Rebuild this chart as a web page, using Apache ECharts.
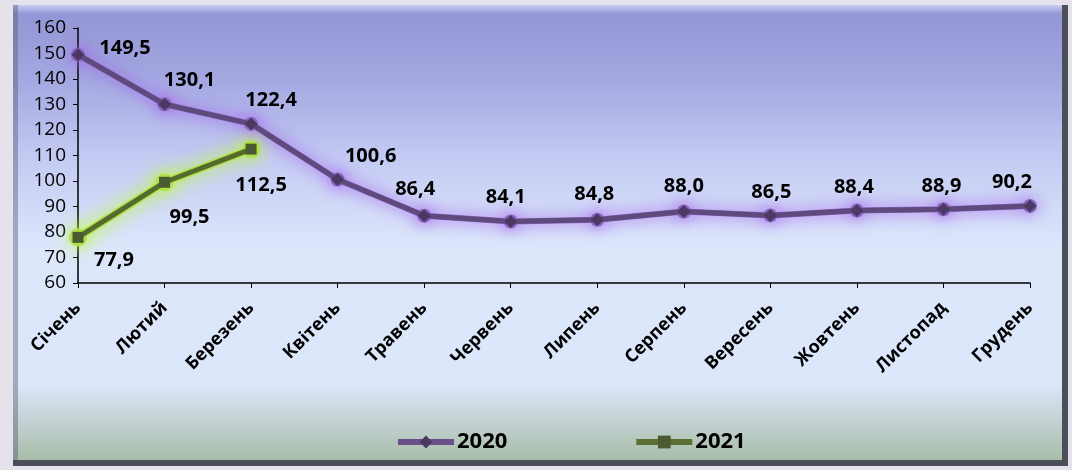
<!DOCTYPE html>
<html>
<head>
<meta charset="utf-8">
<script src="https://cdn.jsdelivr.net/npm/echarts@6/dist/echarts.min.js"></script>
<style>
  html, body { margin: 0; padding: 0; background: #e6e2ec; }
  #main { width: 1072px; height: 470px; }
</style>
</head>
<body>
<div id="main"></div>
<script>
// дані
var months = ['Січень', 'Лютий', 'Березень', 'Квітень', 'Травень', 'Червень', 'Липень', 'Серпень', 'Вересень', 'Жовтень', 'Листопад', 'Грудень'];
var values2020 = [149.5, 130.1, 122.4, 100.6, 86.4, 84.1, 84.8, 88.0, 86.5, 88.4, 88.9, 90.2];
var values2021 = [77.9, 99.5, 112.5];
var seriesNames = ['2020', '2021'];

// зсуви підписів (як в оригіналі)
var offsets2020 = [[47, 19], [25, 2], [20, 2], [33, 2], [-9, -1], [-5, 1], [-3, 0], [0, 0], [1, 2], [-3, 2], [-2, 2], [-18, 2]];
var offsets2021 = [[36, -2], [25, 11], [10, 12]];

var myChart = echarts.init(document.getElementById('main'));

function fmt (v) {
  return v.toFixed(1).replace('.', ',');
}

function buildData (vals, offs) {
  var res = [];
  for (var i = 0; i < vals.length; i++) {
    res.push({ value: vals[i], label: { offset: offs[i] } });
  }
  return res;
}

// шар світіння під лінією
function glowSeries (vals, color, glow, blur, size, width) {
  return {
    type: 'line',
    data: vals,
    symbol: 'circle',
    symbolSize: size,
    silent: true,
    lineStyle: { width: width, color: color, shadowColor: glow, shadowBlur: blur },
    itemStyle: { color: color, shadowColor: glow, shadowBlur: blur },
    label: { show: false },
    z: 2
  };
}

var labelFont = { fontFamily: 'Open Sans', fontWeight: 'bold', fontSize: 20, color: '#000' };

var option = {
  animation: false,
  graphic: [
    // фон панелі
    {
      type: 'rect', z: -10,
      shape: { x: 13, y: 5, width: 1055, height: 461 },
      style: { fill: '#4a4f5a' }
    },
    {
      type: 'rect', z: -9,
      shape: { x: 13, y: 5, width: 1049, height: 455 },
      style: {
        fill: new echarts.graphic.LinearGradient(0, 0, 0, 1, [
          { offset: 0, color: '#c9ccf6' },
          { offset: 0.02, color: '#9396d4' },
          { offset: 0.16, color: '#a3a7e1' },
          { offset: 0.34, color: '#c4cbf3' },
          { offset: 0.53, color: '#dce6fb' },
          { offset: 0.83, color: '#dde7fb' },
          { offset: 0.90, color: '#c8d5da' },
          { offset: 1, color: '#a8bda8' }
        ])
      }
    },
    {
      type: 'rect', z: -8,
      shape: { x: 13, y: 5, width: 5, height: 455 },
      style: { fill: 'rgba(90,95,120,0.45)' }
    }
  ],
  legend: {
    data: [
      { name: seriesNames[0], lineStyle: { width: 6, color: '#6a5089' } },
      { name: seriesNames[1], lineStyle: { width: 6, color: '#5b7031' } }
    ],
    left: 390,
    top: 426,
    itemWidth: 56,
    itemHeight: 16,
    itemGap: 126,
    textStyle: { fontFamily: 'Open Sans', fontWeight: 'bold', fontSize: 22, color: '#000', padding: [0, 0, 0, -2] }
  },
  grid: { left: 78, right: 42, top: 28, bottom: 187, containLabel: false },
  xAxis: {
    type: 'category',
    data: months,
    boundaryGap: false,
    axisLine: { lineStyle: { color: '#000', width: 1.5 } },
    axisTick: { show: true, length: 5, lineStyle: { color: '#000' } },
    axisLabel: {
      rotate: 45,
      margin: 22,
      interval: 0,
      fontFamily: 'Open Sans',
      fontWeight: 'bold',
      fontSize: 18,
      color: '#000'
    }
  },
  yAxis: {
    type: 'value',
    min: 60,
    max: 160,
    interval: 10,
    axisLine: { show: true, lineStyle: { color: '#000', width: 1.5 } },
    axisTick: { show: true, length: 5, lineStyle: { color: '#000' } },
    splitLine: { show: false },
    axisLabel: { margin: 12, fontFamily: 'Open Sans', fontSize: 19, color: '#000' }
  },
  series: [
    glowSeries(values2020, '#8a63c0', 'rgba(160,95,235,1)', 16, 14, 6),
    glowSeries(values2021, '#b0e048', 'rgba(190,255,40,1)', 18, 18, 8),
    {
      name: seriesNames[0],
      type: 'line',
      data: buildData(values2020, offsets2020),
      symbol: 'diamond',
      symbolSize: 13,
      color: '#5e4a7c',
      lineStyle: { width: 5, color: '#5e4a7c' },
      itemStyle: { color: '#4a3962' },
      label: {
        show: true, position: 'top', distance: 9,
        formatter: function (p) { return fmt(p.value); },
        fontFamily: labelFont.fontFamily, fontWeight: labelFont.fontWeight, fontSize: labelFont.fontSize, color: labelFont.color
      },
      z: 3
    },
    {
      name: seriesNames[1],
      type: 'line',
      data: buildData(values2021, offsets2021),
      symbol: 'rect',
      symbolSize: 11,
      color: '#566a2e',
      lineStyle: { width: 5, color: '#566a2e' },
      itemStyle: { color: '#4c5a33' },
      label: {
        show: true, position: 'bottom', distance: 9,
        formatter: function (p) { return fmt(p.value); },
        fontFamily: labelFont.fontFamily, fontWeight: labelFont.fontWeight, fontSize: labelFont.fontSize, color: labelFont.color
      },
      z: 4
    }
  ]
};

myChart.setOption(option);
</script>
</body>
</html>
